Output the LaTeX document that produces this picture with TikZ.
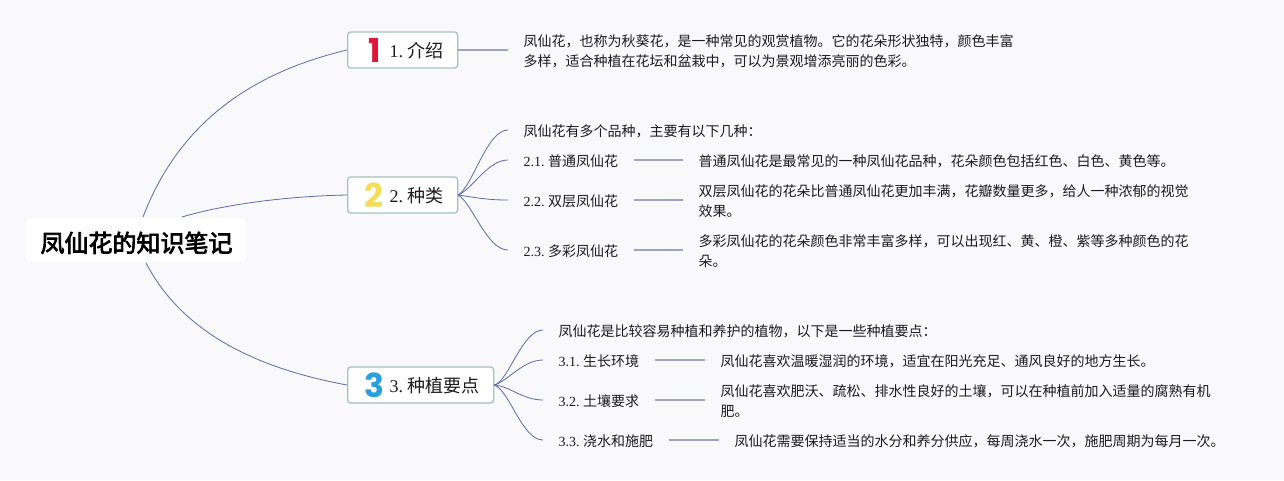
\documentclass[tikz,border=0pt]{standalone}
\usepackage{fontspec}
\setmainfont{Liberation Serif}
\newfontfamily\cjk{Noto Sans CJK SC}
\newfontfamily\cjkheavy[FakeBold=3]{Noto Sans CJK SC}
\newfontfamily\iconfont{Poppins}
\definecolor{bgc}{HTML}{F9F9FC}
\definecolor{edgec}{HTML}{5A6CA6}
\definecolor{stemc}{HTML}{9CA4C6}
\definecolor{boxc}{HTML}{A3C4BA}
\definecolor{inkc}{HTML}{1C1C1C}
\definecolor{redc}{HTML}{DC1738}
\definecolor{yelc}{HTML}{F5DC5C}
\definecolor{bluc}{HTML}{2A9FDE}
\newcommand{\zh}[1]{{\cjk #1}}
\tikzset{
  rootbox/.style={fill=white,rounded corners=8pt,inner sep=0pt,minimum width=222pt,minimum height=44pt,text height=25pt,text depth=1pt,text=black,font=\cjkheavy\fontsize{24}{28}\selectfont},
  topicbox/.style={draw=boxc,line width=1.3pt,fill=white,rounded corners=3pt,inner xsep=15pt,inner ysep=0pt,minimum height=36pt,text height=17pt,text depth=2pt,anchor=west,text=inkc,font=\fontsize{18}{22}\selectfont},
  digit/.style={font=\iconfont\fontsize{33}{33}\selectfont\bfseries,inner sep=0pt},
  leaf/.style={anchor=west,yshift=-1.5pt,inner xsep=15.5pt,inner ysep=0pt,align=left,text=inkc,font=\fontsize{14}{20}\selectfont},
  curve/.style={draw=edgec,line width=0.8pt},
  stem/.style={draw=stemc,line width=1.4pt},
}
\begin{document}
\begin{tikzpicture}[x=1pt,y=-1pt]
\frenchspacing
\fill[bgc] (0,0) rectangle (1284,480);
\useasboundingbox (0,0) rectangle (1284,480);

\coordinate (ra) at (143,217);
\coordinate (rb) at (182,217);
\coordinate (rc) at (146,263);

\node[topicbox] (t1) at (347,50) {\hspace*{27pt}1. \zh{介绍}\hspace*{-1pt}};
\node[topicbox] (t2) at (347,195) {\hspace*{27pt}2. \zh{种类}\hspace*{-1pt}};
\node[topicbox] (t3) at (347,385) {\hspace*{27pt}3. \zh{种植要点}\hspace*{-1pt}};
\node[digit,text=redc] (i1) at (375,50) {1};
\node[digit,text=yelc] (i2) at (374,195) {2};
\node[digit,text=bluc] (i3) at (374,385) {3};

\draw[curve] (ra) .. controls (180,120) and (255,72) .. (t1.west);
\draw[curve] (rb) .. controls (225,204) and (290,196) .. (t2.west);
\draw[curve] (rc) .. controls (182,332) and (255,368) .. (t3.west);
\node[rootbox] (root) at (136,240) {\hspace*{1pt}凤仙花的知识笔记};

% branch 1
\node[leaf] (d1) at (508,50) {\zh{凤仙花，也称为秋葵花，是一种常见的观赏植物。它的花朵形状独特，颜色丰富}\\\zh{多样，适合种植在花坛和盆栽中，可以为景观增添亮丽的色彩。}};
\draw[stem] (t1.east) -- ([yshift=1.5pt]d1.west);

% branch 2
\node[leaf] (b0) at (508,130) {\zh{凤仙花有多个品种，主要有以下几种：}};
\node[leaf] (b1) at (508,160) {2.1. \zh{普通凤仙花}};
\node[leaf] (b2) at (508,200) {2.2. \zh{双层凤仙花}};
\node[leaf] (b3) at (508,250) {2.3. \zh{多彩凤仙花}};
\node[leaf] (c1) at (683,160) {\zh{普通凤仙花是最常见的一种凤仙花品种，花朵颜色包括红色、白色、黄色等。}};
\node[leaf] (c2) at (683,200) {\zh{双层凤仙花的花朵比普通凤仙花更加丰满，花瓣数量更多，给人一种浓郁的视觉}\\\zh{效果。}};
\node[leaf] (c3) at (683,250) {\zh{多彩凤仙花的花朵颜色非常丰富多样，可以出现红、黄、橙、紫等多种颜色的花}\\\zh{朵。}};
\foreach \n/\a/\b/\c in {b0/15/-10/-21,b1/15/-7/-20,b2/20/3/-20,b3/15/10/-21}
  \draw[curve] (t2.east) .. controls +(\a,\b) and +(\c,0) .. ([yshift=1.5pt]\n.west);
\foreach \p/\q in {b1/c1,b2/c2,b3/c3}
  \draw[stem] ([yshift=1.5pt]\p.east) -- ([yshift=1.5pt]\q.west);

% branch 3
\node[leaf] (e0) at (543,330) {\zh{凤仙花是比较容易种植和养护的植物，以下是一些种植要点：}};
\node[leaf] (e1) at (543,360) {3.1. \zh{生长环境}};
\node[leaf] (e2) at (543,400) {3.2. \zh{土壤要求}};
\node[leaf] (e3) at (543,440) {3.3. \zh{浇水和施肥}};
\node[leaf] (f1) at (705,360) {\zh{凤仙花喜欢温暖湿润的环境，适宜在阳光充足、通风良好的地方生长。}};
\node[leaf] (f2) at (705,400) {\zh{凤仙花喜欢肥沃、疏松、排水性良好的土壤，可以在种植前加入适量的腐熟有机}\\\zh{肥。}};
\node[leaf] (f3) at (719,440) {\zh{凤仙花需要保持适当的水分和养分供应，每周浇水一次，施肥周期为每月一次。}};
\foreach \n/\a/\b/\c in {e0/14/-3/-21,e1/15/-5/-20,e2/15/1/-20,e3/15/5/-21}
  \draw[curve] (t3.east) .. controls +(\a,\b) and +(\c,0) .. ([yshift=1.5pt]\n.west);
\foreach \p/\q in {e1/f1,e2/f2,e3/f3}
  \draw[stem] ([yshift=1.5pt]\p.east) -- ([yshift=1.5pt]\q.west);
\end{tikzpicture}
\end{document}
